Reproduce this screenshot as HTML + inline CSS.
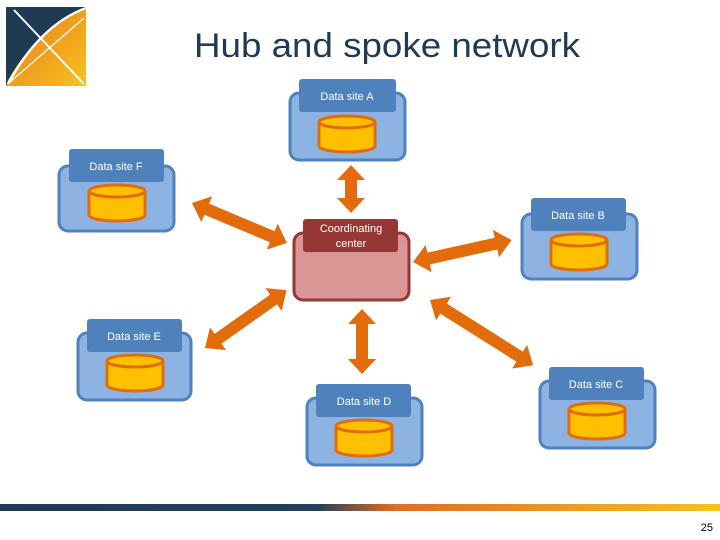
<!DOCTYPE html>
<html><head><meta charset="utf-8"><style>
html,body{margin:0;padding:0;background:#fff;}
svg{display:block;}
text{font-family:"Liberation Sans",sans-serif;}
</style></head><body>
<svg width="720" height="540" viewBox="0 0 720 540" xmlns="http://www.w3.org/2000/svg">
<defs>
<linearGradient id="bar" x1="0" x2="1" y1="0" y2="0">
<stop offset="0" stop-color="#1f3b53"/><stop offset="0.44" stop-color="#23405a"/>
<stop offset="0.55" stop-color="#e36c20"/><stop offset="1" stop-color="#f6c21c"/>
</linearGradient>
<linearGradient id="lg" x1="0" y1="0" x2="1" y2="1">
<stop offset="0" stop-color="#e9781e"/><stop offset="1" stop-color="#f7c21e"/>
</linearGradient>
<g id="cyl">
<path d="M-28,-12 L-28,12 A28,6 0 0 0 28,12 L28,-12" fill="#ffc000" stroke="#e36c0a" stroke-width="3"/>
<ellipse cx="0" cy="-12" rx="28" ry="6" fill="#ffc000" stroke="#e36c0a" stroke-width="3"/>
</g>
</defs>

<!-- logo -->
<rect x="6" y="7" width="80" height="79" fill="url(#lg)"/>
<path d="M6,7 L86,7 L86,9 Q40,25 8,80 L6,86 Z" fill="#1f3b53"/>
<path d="M8,84 Q40,25 86,8" fill="none" stroke="#fff" stroke-width="2.5"/>
<path d="M14,10 L84,84" stroke="#fff" stroke-width="2"/>
<path d="M10,82 L84,18" stroke="#fff" stroke-width="1.2"/>

<text x="194" y="57" font-size="34" fill="#1f3b53" textLength="386" lengthAdjust="spacingAndGlyphs">Hub and spoke network</text>

<!-- sites -->
<g fill="#8db3e2" stroke="#4f81bd" stroke-width="3">
<rect x="290" y="93" width="115" height="67" rx="9"/>
<rect x="59" y="166" width="115" height="65" rx="9"/>
<rect x="522" y="214" width="115" height="65" rx="9"/>
<rect x="78" y="333" width="113" height="67" rx="9"/>
<rect x="307" y="398" width="115" height="67" rx="9"/>
<rect x="540" y="381" width="115" height="67" rx="9"/>
</g>
<g fill="#4f81bd">
<rect x="299" y="79" width="97" height="33" rx="3"/>
<rect x="69" y="149" width="95" height="33" rx="3"/>
<rect x="531" y="198" width="95" height="33" rx="3"/>
<rect x="87" y="319" width="95" height="33" rx="3"/>
<rect x="316" y="384" width="95" height="33" rx="3"/>
<rect x="549" y="367" width="95" height="33" rx="3"/>
</g>
<rect x="294" y="233" width="115" height="67" rx="9" fill="#d99694" stroke="#953735" stroke-width="3"/>
<rect x="303" y="219" width="95" height="33" rx="3" fill="#953735"/>

<g font-size="11" fill="#fff" text-anchor="middle">
<text x="347" y="100">Data site A</text>
<text x="116" y="170">Data site F</text>
<text x="578" y="219">Data site B</text>
<text x="134" y="340">Data site E</text>
<text x="364" y="405">Data site D</text>
<text x="596" y="388">Data site C</text>
<text x="351" y="232">Coordinating</text>
<text x="351" y="247">center</text>
</g>

<use href="#cyl" x="347" y="134"/>
<use href="#cyl" x="117" y="203"/>
<use href="#cyl" x="579" y="252"/>
<use href="#cyl" x="135" y="373"/>
<use href="#cyl" x="364" y="438"/>
<use href="#cyl" x="597" y="421"/>

<!-- arrows -->
<g fill="#e36c0a">
<polygon transform="translate(351,165) rotate(90)" points="0,0 15,-14 15,-6 33,-6 33,-14 48,0 33,14 33,6 15,6 15,14"/>
<polygon transform="translate(362,309) rotate(90)" points="0,0 15,-14 15,-6 50,-6 50,-14 65,0 50,14 50,6 15,6 15,14"/>
<polygon transform="translate(192,203) rotate(22.8)" points="0,0 16,-14 16,-6 87,-6 87,-14 103,0 87,14 87,6 16,6 16,14"/>
<polygon transform="translate(413,262) rotate(-12.5)" points="0,0 16,-14 16,-6 85,-6 85,-14 101,0 85,14 85,6 16,6 16,14"/>
<polygon transform="translate(205,348) rotate(-35.3)" points="0,0 16,-14 16,-6 84,-6 84,-14 100,0 84,14 84,6 16,6 16,14"/>
<polygon transform="translate(430,300) rotate(32.3)" points="0,0 16,-14 16,-6 106,-6 106,-14 122,0 106,14 106,6 16,6 16,14"/>
</g>

<rect x="0" y="504" width="720" height="7" fill="url(#bar)"/>
<text x="713" y="531" font-size="11" fill="#000" text-anchor="end">25</text>
</svg>
</body></html>
